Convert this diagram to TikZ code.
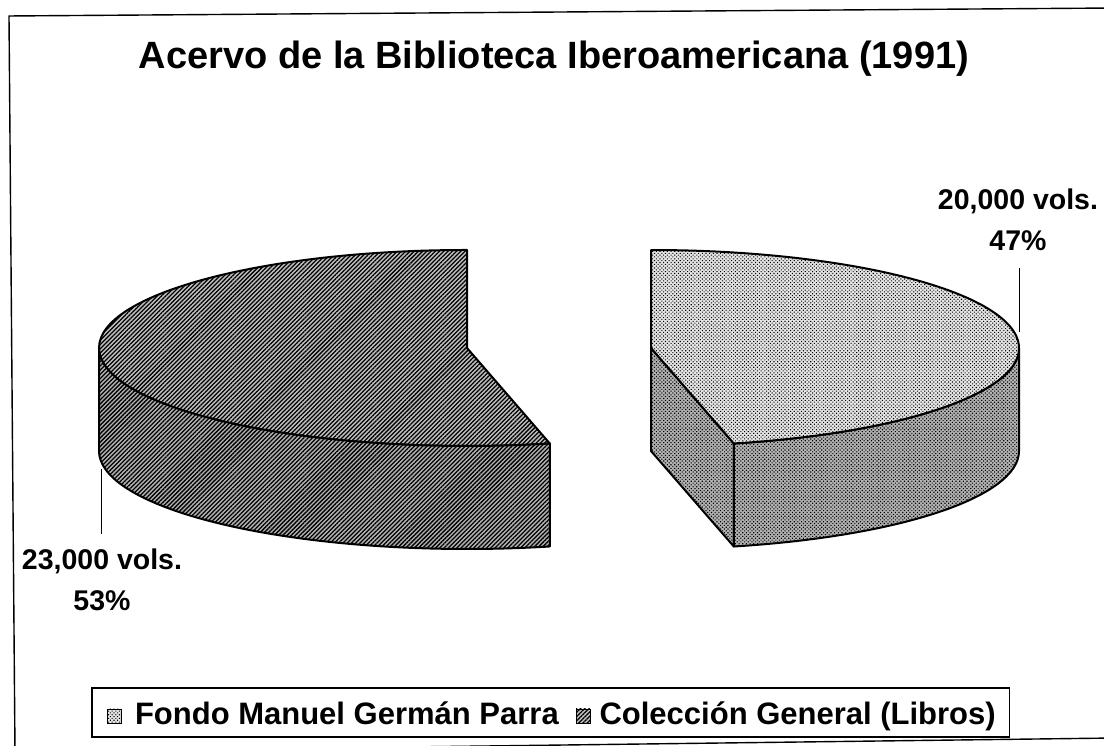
\documentclass[tikz,border=0pt]{standalone}
\usepackage{fontspec}
\setmainfont{Liberation Sans}
\usetikzlibrary{patterns.meta,fit}
\tikzset{
  pieline/.style={line width=2pt, line join=round},
  hatchtop/.style={preaction={fill=black!25},
    preaction={pattern={Lines[angle=45,distance=3pt,line width=1.25pt]}, pattern color=black}},
  hatchside/.style={preaction={fill=black!30},
    preaction={pattern={Lines[angle=45,distance=3pt,line width=1.3pt]}, pattern color=black}},
  dottop/.style={preaction={fill=black!10},
    preaction={pattern={Dots[angle=45,distance=2.6pt,radius=0.75pt]}, pattern color=black}},
  dotside/.style={preaction={fill=black!30},
    preaction={pattern={Dots[angle=45,distance=2.6pt,radius=0.8pt]}, pattern color=black}},
  leader/.style={line width=1pt},
  frameline/.style={line width=1.4pt, line join=miter},
  lbl/.style={font=\fontsize{28.5}{41}\selectfont\bfseries, align=center, inner sep=0pt, outer sep=0pt},
  legtext/.style={font=\fontsize{31}{34}\selectfont\bfseries, inner sep=0pt, outer sep=0pt},
  swatch/.style={draw, line width=0.8pt, minimum width=14pt, minimum height=14pt, inner sep=0pt},
}
\begin{document}
\begin{tikzpicture}[x=1pt,y=1pt]
\useasboundingbox (0,0) rectangle (1104,746);
% outer frame (slightly tilted, as scanned)
\draw[frameline] (1115,738) -- (9,730) -- (15,-6) -- (1115,8);
% title
\node[font=\fontsize{38}{40}\selectfont\bfseries, anchor=base, inner sep=0pt] (title) at (554,677)
  {Acervo de la Biblioteca Iberoamericana (1991)};

% ---- left slice (53%) ----
\coordinate (C1) at (467,398);
\draw[pieline, hatchtop] (C1) -- (467,496)
  arc[start angle=90, end angle=283, x radius=368pt, y radius=98pt] -- cycle;
\draw[pieline, hatchside] (99,398)
  arc[start angle=180, end angle=283, x radius=368pt, y radius=98pt]
  -- ++(0,-103)
  arc[start angle=283, end angle=180, x radius=368pt, y radius=98pt] -- cycle;

% ---- right slice (47%) ----
\coordinate (C2) at (651,398);
\draw[pieline, dotside] (C2) -- (733.8,302.5) -- (733.8,199.5) -- (651,295) -- cycle;
\draw[pieline, dotside] (733.8,302.5)
  arc[start angle=283, end angle=360, x radius=368pt, y radius=98pt]
  -- ++(0,-103)
  arc[start angle=360, end angle=283, x radius=368pt, y radius=98pt] -- cycle;
\draw[pieline, dottop] (C2) -- (733.8,302.5)
  arc[start angle=283, end angle=450, x radius=368pt, y radius=98pt] -- cycle;

% ---- labels ----
\node[lbl, anchor=north] (lblL) at (102,197) {23,000 vols.\\53\%};
\node[lbl, anchor=south] (lblR) at (1018,495) {20,000 vols.\\47\%};
\coordinate (rimL) at (101,277);
\coordinate (rimR) at (1019,414);
\coordinate (endL) at ([yshift=15pt]lblL.north);
\coordinate (endR) at ([yshift=-17pt]lblR.south);
\draw[leader] (rimL) -- (rimL |- endL);
\draw[leader] (rimR) -- (rimR |- endR);

% ---- legend ----
\node[swatch, dottop] (sw1) at (114,30) {};
\node[legtext, anchor=base west] (t1) at (135,21) {Fondo Manuel Germán Parra};
\coordinate (t1e) at ([xshift=17pt]t1.east);
\node[swatch, hatchtop, anchor=west] (sw2) at (t1e |- sw1) {};
\coordinate (sw2e) at ([xshift=9pt]sw2.east);
\node[legtext, anchor=base west] (t2) at (sw2e |- t1.base) {Colección General (Libros)};
\coordinate (lgA) at (92,9);
\coordinate (t2e) at ([xshift=14pt]t2.east);
\coordinate (lgB) at (t2e |- 0,58);
\node[draw, line width=1.2pt, fit=(lgA)(lgB), inner sep=0pt] (legend) {};
\end{tikzpicture}
\end{document}
